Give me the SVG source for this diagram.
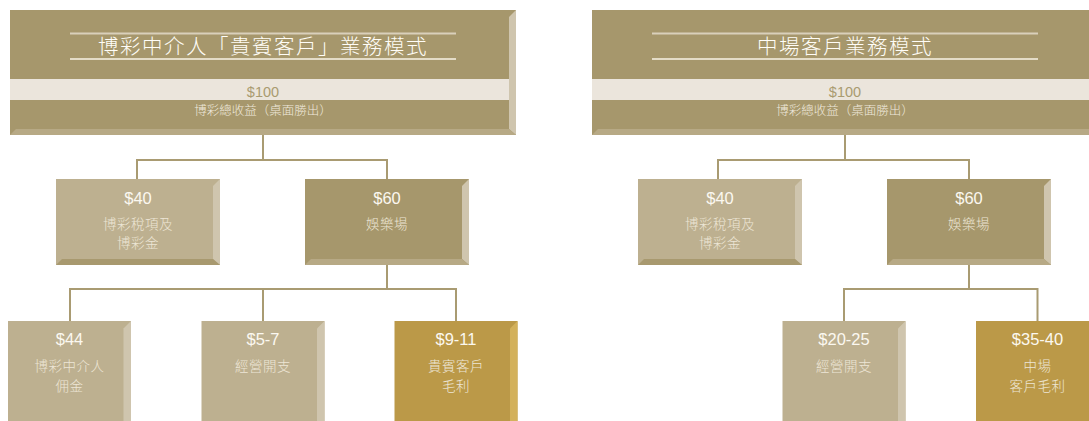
<svg xmlns="http://www.w3.org/2000/svg" width="1089" height="421" viewBox="0 0 1089 421">
<style>
text{font-family:"Liberation Sans","Noto Sans CJK TC",sans-serif;text-anchor:middle}
.dark{fill:#a6976c}
.band{fill:#ebe5dc}
.tan{fill:#bdb090}
.gold{fill:#bb9948}
.rs{fill:#cfc5ae}
.rsg{fill:#d3b15b}
.bsd{fill:#a8996f}
.bsl{fill:#b7a985}
.title{font-size:20.5px;fill:#fffdf7;letter-spacing:1.5px;font-family:"Noto Sans CJK TC",sans-serif;font-weight:300}
.tl1{stroke:#d9d0bb;stroke-width:2}
.tl2{stroke:#f8f3e6;stroke-width:1.5}
.amt{font-size:14.5px;fill:#a99b70}
.sub{font-size:12.5px;fill:#efe9dc;font-family:"Noto Sans CJK TC",sans-serif;font-weight:300}
.val{font-size:16.5px;fill:#fbf8f0}
.lbl{font-size:13.5px;fill:#ede6d6;letter-spacing:0.5px;font-family:"Noto Sans CJK TC",sans-serif;font-weight:300}
.conn{fill:none;stroke:#a99b72;stroke-width:2}
</style>

<!-- LEFT DIAGRAM -->
<g id="vip-header">
  <rect class="dark" x="10" y="10" width="506" height="125"/>
  <rect class="band" x="10" y="79" width="499" height="21"/>
  <polygon class="rs" points="509,17 516,10 516,135 509,129"/>
  <polygon class="bsl" points="10,135 16,129 509,129 516,135"/>
  <line class="tl1" x1="70" y1="33.5" x2="456" y2="33.5"/>
  <line class="tl2" x1="70" y1="59" x2="456" y2="59"/>
  <text class="title" x="263" y="54">博彩中介人「貴賓客戶」業務模式</text>
  <text class="amt" x="263" y="97">$100</text>
  <text class="sub" x="263" y="115">博彩總收益（桌面勝出）</text>
</g>

<g id="vip-tax">
  <rect class="tan" x="56" y="179" width="164" height="86"/>
  <polygon class="rs" points="213,186 220,179 220,265 213,259"/>
  <polygon class="bsd" points="56,265 62,259 213,259 220,265"/>
  <text class="val" x="138" y="204">$40</text>
  <text class="lbl" x="138" y="228.5">博彩稅項及</text>
  <text class="lbl" x="138" y="248">博彩金</text>
</g>

<g id="vip-casino">
  <rect class="dark" x="305" y="179" width="164" height="86"/>
  <polygon class="rs" points="462,186 469,179 469,265 462,259"/>
  <polygon class="bsl" points="305,265 311,259 462,259 469,265"/>
  <text class="val" x="387" y="204">$60</text>
  <text class="lbl" x="387" y="228.5">娛樂場</text>
</g>

<g id="vip-commission">
  <rect class="tan" x="8" y="321" width="123" height="110"/>
  <polygon class="rs" points="123.5,328.5 131,321 131,431 123.5,431"/>
  <text class="val" x="69.5" y="345">$44</text>
  <text class="lbl" x="69.5" y="370.5">博彩中介人</text>
  <text class="lbl" x="69.5" y="390.5">佣金</text>
</g>

<g id="vip-opex">
  <rect class="tan" x="201.5" y="321" width="123" height="110"/>
  <polygon class="rs" points="317,328.5 324.5,321 324.5,431 317,431"/>
  <text class="val" x="263" y="345">$5-7</text>
  <text class="lbl" x="263" y="370.5">經營開支</text>
</g>

<g id="vip-margin">
  <rect class="gold" x="394.5" y="321" width="123" height="110"/>
  <polygon class="rsg" points="510,328.5 517.5,321 517.5,431 510,431"/>
  <text class="val" x="456" y="345">$9-11</text>
  <text class="lbl" x="456" y="370.5">貴賓客戶</text>
  <text class="lbl" x="456" y="390.5">毛利</text>
</g>

<!-- RIGHT DIAGRAM -->
<g id="mass-header">
  <rect class="dark" x="592" y="10" width="506" height="125"/>
  <rect class="band" x="592" y="79" width="499" height="21"/>
  <polygon class="rs" points="1091,17 1098,10 1098,135 1091,129"/>
  <polygon class="bsl" points="592,135 598,129 1091,129 1098,135"/>
  <line class="tl1" x1="652" y1="33.5" x2="1038" y2="33.5"/>
  <line class="tl2" x1="652" y1="59" x2="1038" y2="59"/>
  <text class="title" x="845" y="54">中場客戶業務模式</text>
  <text class="amt" x="845" y="97">$100</text>
  <text class="sub" x="845" y="115">博彩總收益（桌面勝出）</text>
</g>

<g id="mass-tax">
  <rect class="tan" x="638" y="179" width="164" height="86"/>
  <polygon class="rs" points="795,186 802,179 802,265 795,259"/>
  <polygon class="bsd" points="638,265 644,259 795,259 802,265"/>
  <text class="val" x="720" y="204">$40</text>
  <text class="lbl" x="720" y="228.5">博彩稅項及</text>
  <text class="lbl" x="720" y="248">博彩金</text>
</g>

<g id="mass-casino">
  <rect class="dark" x="887" y="179" width="164" height="86"/>
  <polygon class="rs" points="1044,186 1051,179 1051,265 1044,259"/>
  <polygon class="bsl" points="887,265 893,259 1044,259 1051,265"/>
  <text class="val" x="969" y="204">$60</text>
  <text class="lbl" x="969" y="228.5">娛樂場</text>
</g>

<g id="mass-opex">
  <rect class="tan" x="782.5" y="321" width="123" height="110"/>
  <polygon class="rs" points="898,328.5 905.5,321 905.5,431 898,431"/>
  <text class="val" x="844" y="345">$20-25</text>
  <text class="lbl" x="844" y="370.5">經營開支</text>
</g>

<g id="mass-margin">
  <rect class="gold" x="976" y="321" width="123" height="110"/>
  <polygon class="rsg" points="1091.5,328.5 1099,321 1099,431 1091.5,431"/>
  <text class="val" x="1037.5" y="345">$35-40</text>
  <text class="lbl" x="1037.5" y="370.5">中場</text>
  <text class="lbl" x="1037.5" y="390.5">客戶毛利</text>
</g>

<g id="connectors">
  <path class="conn" d="M263,135 V160 M137,160 H387 M137,159 V179 M387,159 V179"/>
  <path class="conn" d="M387,265 V289 M70,289 H456 M70,288 V321 M263,288 V321 M456,288 V321"/>
  <path class="conn" d="M845,135 V160 M718,160 H969 M718,159 V179 M969,159 V179"/>
  <path class="conn" d="M969,265 V289 M844,289 H1037.5 M844,288 V321 M1037.5,288 V321"/>
</g>
</svg>
